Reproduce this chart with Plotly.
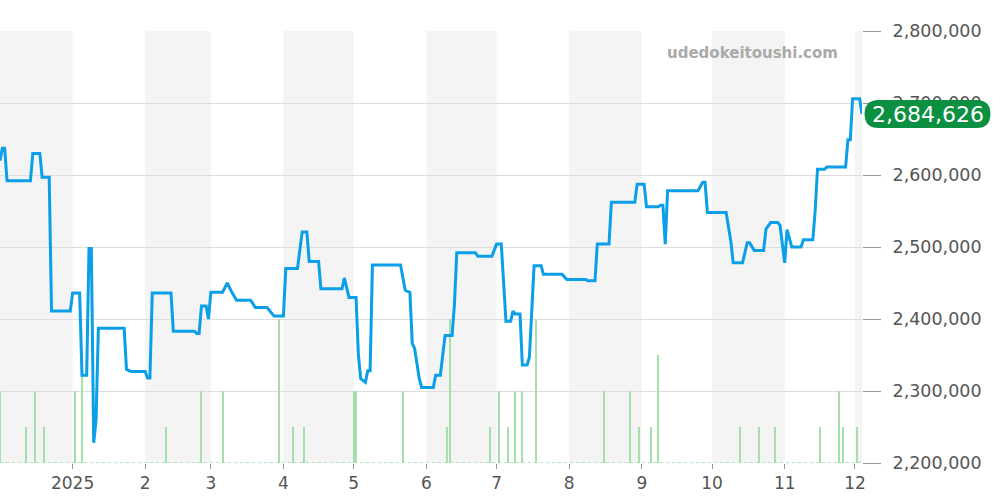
import plotly.graph_objects as go

# price line
price_dates = ["2024-12-01", "2024-12-02", "2024-12-03", "2024-12-04", "2024-12-14", "2024-12-15", "2024-12-18",
               "2024-12-19", "2024-12-22", "2024-12-23", "2024-12-31", "2025-01-01", "2025-01-04", "2025-01-05",
               "2025-01-07", "2025-01-08", "2025-01-09", "2025-01-10", "2025-01-11", "2025-01-12", "2025-01-23",
               "2025-01-24", "2025-01-26", "2025-02-01", "2025-02-02", "2025-02-03", "2025-02-04", "2025-02-12",
               "2025-02-13", "2025-02-22", "2025-02-23", "2025-02-24", "2025-02-25", "2025-02-27", "2025-02-28",
               "2025-03-01", "2025-03-06", "2025-03-08", "2025-03-10", "2025-03-12", "2025-03-18", "2025-03-20",
               "2025-03-25", "2025-03-27", "2025-03-28", "2025-04-01", "2025-04-02", "2025-04-07", "2025-04-08",
               "2025-04-09", "2025-04-11", "2025-04-12", "2025-04-16", "2025-04-17", "2025-04-26", "2025-04-27",
               "2025-04-29", "2025-05-02", "2025-05-03", "2025-05-04", "2025-05-06", "2025-05-07", "2025-05-08",
               "2025-05-09", "2025-05-21", "2025-05-23", "2025-05-25", "2025-05-26", "2025-05-27", "2025-05-29",
               "2025-05-30", "2025-06-04", "2025-06-05", "2025-06-07", "2025-06-09", "2025-06-12", "2025-06-13",
               "2025-06-14", "2025-06-22", "2025-06-23", "2025-06-29", "2025-07-01", "2025-07-03", "2025-07-05",
               "2025-07-07", "2025-07-08", "2025-07-09", "2025-07-11", "2025-07-12", "2025-07-14", "2025-07-15",
               "2025-07-17", "2025-07-20", "2025-07-21", "2025-07-29", "2025-07-31", "2025-08-08", "2025-08-09",
               "2025-08-12", "2025-08-13", "2025-08-18", "2025-08-19", "2025-08-29", "2025-08-30", "2025-09-02",
               "2025-09-03", "2025-09-08", "2025-09-09", "2025-09-10", "2025-09-11", "2025-09-12", "2025-09-25",
               "2025-09-27", "2025-09-28", "2025-09-29", "2025-10-07", "2025-10-09", "2025-10-10", "2025-10-14",
               "2025-10-16", "2025-10-17", "2025-10-19", "2025-10-23", "2025-10-24", "2025-10-26", "2025-10-29",
               "2025-10-30", "2025-11-01", "2025-11-02", "2025-11-04", "2025-11-08", "2025-11-09", "2025-11-13",
               "2025-11-14", "2025-11-15", "2025-11-18", "2025-11-19", "2025-11-27", "2025-11-28", "2025-11-29",
               "2025-11-30", "2025-12-03", "2025-12-04"]
price_values = [2620000, 2637000, 2637000, 2592000, 2592000, 2630000, 2630000,
                2597000, 2597000, 2411000, 2411000, 2436000, 2436000, 2322000,
                2322000, 2498000, 2498000, 2228000, 2260000, 2387000, 2387000,
                2330000, 2327000, 2327000, 2318000, 2318000, 2436000, 2436000,
                2383000, 2383000, 2380000, 2380000, 2418000, 2418000, 2400000,
                2437000, 2437000, 2450000, 2437000, 2426000, 2426000, 2416000,
                2416000, 2408000, 2404000, 2404000, 2470000, 2470000, 2500000,
                2521000, 2521000, 2480000, 2480000, 2442000, 2442000, 2457000,
                2430000, 2430000, 2350000, 2317000, 2312000, 2328000, 2328000,
                2475000, 2475000, 2440000, 2437000, 2366000, 2359000, 2317000,
                2305000, 2305000, 2322000, 2322000, 2377000, 2377000, 2420000,
                2492000, 2492000, 2487000, 2487000, 2504000, 2504000, 2397000,
                2397000, 2411000, 2407000, 2407000, 2336000, 2336000, 2347000,
                2474000, 2474000, 2462000, 2462000, 2455000, 2455000, 2453000,
                2453000, 2504000, 2504000, 2562000, 2562000, 2587000, 2587000,
                2556000, 2556000, 2558000, 2558000, 2504000, 2578000, 2578000,
                2590000, 2590000, 2548000, 2548000, 2508000, 2478000, 2478000,
                2506000, 2506000, 2495000, 2495000, 2525000, 2534000, 2534000,
                2530000, 2478000, 2524000, 2500000, 2500000, 2510000, 2510000,
                2550000, 2608000, 2608000, 2611000, 2611000, 2649000, 2649000,
                2706000, 2706000, 2684626]

# volume bars (top level of bar on price axis)
bar_dates = ["2024-12-01", "2024-12-12", "2024-12-16", "2024-12-20", "2025-01-02", "2025-01-05", "2025-02-10",
             "2025-02-25", "2025-03-06", "2025-03-30", "2025-04-05", "2025-04-10", "2025-05-01", "2025-05-02",
             "2025-05-22", "2025-06-10", "2025-06-11", "2025-06-28", "2025-07-02", "2025-07-06", "2025-07-09",
             "2025-07-12", "2025-07-18", "2025-08-16", "2025-08-27", "2025-08-31", "2025-09-05", "2025-09-08",
             "2025-10-13", "2025-10-21", "2025-10-28", "2025-11-16", "2025-11-24", "2025-11-26", "2025-12-02"]
bar_levels = [2, 1, 2, 1, 2, 3, 1,
              2, 2, 4, 1, 1, 2, 2,
              2, 1, 4, 1, 2, 1, 2,
              2, 4, 2, 2, 1, 1, 3,
              1, 1, 1, 1, 2, 1, 1]

month_starts = ["2024-12-01", "2025-01-01", "2025-02-01", "2025-03-01", "2025-04-01", "2025-05-01", "2025-06-01",
                "2025-07-01", "2025-08-01", "2025-09-01", "2025-10-01", "2025-11-01", "2025-12-01", "2026-01-01"]
tick_vals = month_starts[1:13]
tick_text = ["2025", "2", "3", "4", "5", "6", "7", "8", "9", "10", "11", "12"]

Y0, Y1 = 2200000, 2800000
last = price_values[-1]

fig = go.Figure()
fig.add_trace(go.Bar(x=bar_dates, y=[v * 50000 for v in bar_levels], base=Y0,
                     marker=dict(color="#a6dfae", line=dict(width=0)), width=0.45 * 86400000,
                     hoverinfo="skip"))
fig.add_trace(go.Scatter(x=price_dates, y=price_values, mode="lines",
                         line=dict(color="#0a9fe8", width=3)))

shapes = []
for i in range(0, len(month_starts) - 1, 2):
    shapes.append(dict(type="rect", xref="x", yref="paper", x0=month_starts[i], x1=month_starts[i + 1],
                       y0=0, y1=1, fillcolor="#f4f4f4", line=dict(width=0), layer="below"))
shapes.append(dict(type="line", xref="paper", yref="y", x0=0, x1=1, y0=Y0, y1=Y0,
                   line=dict(color="#9fdca8", width=1.5, dash="dot")))

# rounded badge for last price
px_w = 862.0
rx = 14 / px_w
ry = 14 * (Y1 - Y0) / 432.0
xa, xb = 1.003, 1.149
ya, yb = last - ry, last + ry
path = (f"M {xa+rx} {ya} L {xb-rx} {ya} Q {xb} {ya} {xb} {last} Q {xb} {yb} {xb-rx} {yb} "
        f"L {xa+rx} {yb} Q {xa} {yb} {xa} {last} Q {xa} {ya} {xa+rx} {ya} Z")
shapes.append(dict(type="path", xref="paper", yref="y", path=path, fillcolor="#0a9040",
                   line=dict(width=0), layer="above"))

fig.update_layout(
    width=1000, height=500,
    margin=dict(l=0, r=138, t=31, b=37),
    paper_bgcolor="white", plot_bgcolor="white",
    showlegend=False, bargap=0,
    font=dict(family="DejaVu Sans", color="#666666"),
    shapes=shapes,
    xaxis=dict(range=["2024-12-01", "2025-12-04"], tickvals=tick_vals, ticktext=tick_text,
               showgrid=False, ticks="outside", ticklen=5, tickcolor="#999999", automargin=False,
               tickfont=dict(size=17, color="#555555"), zeroline=False),
    yaxis=dict(range=[Y0, Y1], side="right", dtick=100000, tickformat=",", automargin=False,
               gridcolor="#dddddd", ticks="outside", ticklen=18, tickcolor="#999999",
               ticklabelstandoff=8,
               tickfont=dict(size=17.5, color="#555555"), zeroline=False),
    annotations=[
        dict(text="<b>udedokeitoushi.com</b>", xref="paper", yref="paper", x=0.975, y=0.95,
             xanchor="right", yanchor="middle", showarrow=False, font=dict(size=15, color="#aaaaaa")),
        dict(text=f"{last:,}", xref="paper", yref="y", x=(xa + xb) / 2, y=last, showarrow=False,
             font=dict(size=22, color="white"), xanchor="center", yanchor="middle"),
    ],
)

# drop the page's default body margin so the chart sits at the window corner
fig.write_html("out.html", config={"displayModeBar": False},
               post_script="document.body.style.margin='0';")
